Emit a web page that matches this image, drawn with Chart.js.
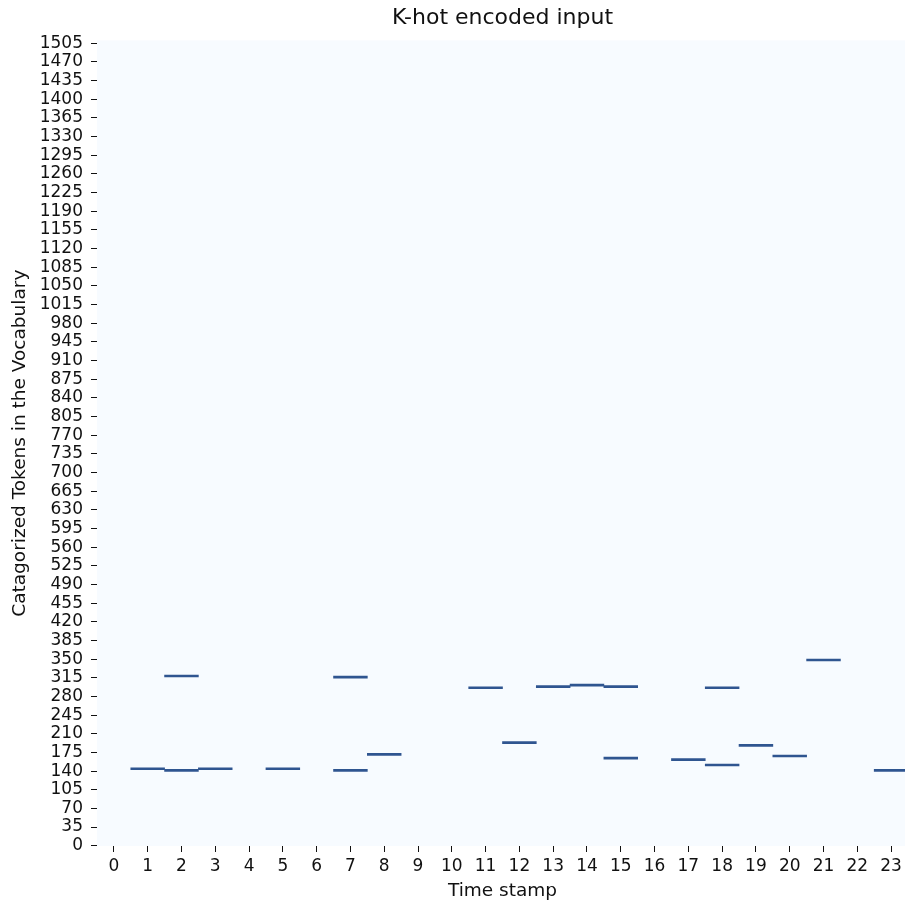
<!DOCTYPE html>
<html>
<head>
<meta charset="utf-8">
<title>K-hot encoded input</title>
<script src="https://cdn.jsdelivr.net/npm/chart.js@4.4.1/dist/chart.umd.min.js"></script>
<style>
  html, body { margin: 0; padding: 0; background: #fff; overflow: hidden; }
  #wrap { width: 912px; height: 907px; }
</style>
</head>
<body>
<div id="wrap"><canvas id="khot" width="912" height="907"></canvas></div>
<script>
// ── Data ──
const timeStamps = ['0','1','2','3','4','5','6','7','8','9','10','11','12','13','14','15','16','17','18','19','20','21','22','23'];

// token row that is "hot" at each time stamp (null = none)
const lowerTokens = [null, 143, 140, 143, null, 143, null, 140, 170, null, null, 295, 192, 297, 300, 163, null, 160, 150, 187, 167, 347, null, 140];
const upperTokens = [null, null, 317, null, null, null, null, 315, null, null, null, null, null, null, null, 297, null, null, 295, null, null, null, null, null];

const vocabSize = 1511;
const yTickLabels = [0,35,70,105,140,175,210,245,280,315,350,385,420,455,490,525,560,595,630,665,700,735,770,805,840,875,910,945,980,1015,1050,1085,1120,1155,1190,1225,1260,1295,1330,1365,1400,1435,1470,1505];

const FONT = 'DejaVu Sans';
const INK = '#111';
const CELL = '#2f5590';

// a cell covers one row: [row, row + 1]
const toCells = arr => arr.map(v => v === null ? null : [v, v + 1]);

// light heatmap background behind the cells
const heatBg = {
  id: 'heatBg',
  beforeDatasetsDraw(chart) {
    const { ctx, chartArea: a } = chart;
    ctx.save();
    ctx.fillStyle = '#f7fbff';
    ctx.fillRect(a.left, a.top, a.right - a.left, a.bottom - a.top);
    ctx.restore();
  }
};

const cellDataset = (label, arr) => ({
  label,
  data: toCells(arr),
  backgroundColor: CELL,
  borderWidth: 0,
  barPercentage: 1,
  categoryPercentage: 1,
  minBarLength: 2,
  grouped: false,
});

new Chart(document.getElementById('khot').getContext('2d'), {
  type: 'bar',
  data: {
    labels: timeStamps,
    datasets: [
      cellDataset('hot token', lowerTokens),
      cellDataset('hot token 2', upperTokens),
    ]
  },
  plugins: [heatBg],
  options: {
    responsive: false,
    animation: false,
    layout: { padding: { left: 0, right: 4, top: 0, bottom: 0 } },
    plugins: {
      legend: { display: false },
      tooltip: { enabled: false },
      title: {
        display: true,
        fullSize: false,
        text: 'K-hot encoded input',
        color: INK,
        font: { family: FONT, size: 22, weight: 'normal' },
        padding: { top: 5, bottom: 9 },
      }
    },
    scales: {
      x: {
        offset: true,
        border: { display: false },
        grid: { display: true, offset: false, drawOnChartArea: false, drawTicks: true, tickLength: 6, tickColor: INK, tickWidth: 1 },
        ticks: { color: INK, font: { family: FONT, size: 17 }, padding: 4, autoSkip: false, maxRotation: 0 },
        title: { display: true, text: 'Time stamp', color: INK, font: { family: FONT, size: 18.5 }, padding: { top: 0, bottom: 5 } },
        afterFit: s => { s.height = 61; },
      },
      y: {
        min: 0,
        max: vocabSize,
        border: { display: false },
        grid: { display: true, drawOnChartArea: false, drawTicks: true, tickLength: 6, tickColor: INK, tickWidth: 1 },
        afterBuildTicks: s => { s.ticks = yTickLabels.map(v => ({ value: v + 0.5 })); },
        ticks: {
          color: INK,
          font: { family: FONT, size: 17 },
          padding: 8,
          autoSkip: false,
          callback: v => String(Math.round(v - 0.5)),
        },
        title: { display: true, text: 'Catagorized Tokens in the Vocabulary', color: INK, font: { family: FONT, size: 18.5 }, padding: { top: 9, bottom: 0 } },
        afterFit: s => { s.width = 97; },
      }
    }
  }
});
</script>
</body>
</html>
